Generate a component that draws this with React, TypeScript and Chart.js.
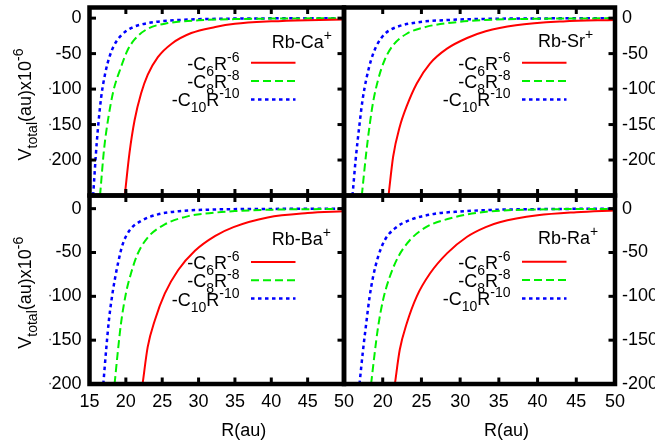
import React, { useEffect, useRef } from 'react';
import { Chart, registerables } from 'chart.js';

Chart.register(...registerables);

const FAMILY = '"Liberation Sans", Arial, Helvetica, sans-serif';
const CANVAS_W = 661;
const CANVAS_H = 446;

// ---- tick values ----
const xTickValues = [15, 20, 25, 30, 35, 40, 45, 50];
const yTickValues = [-200, -150, -100, -50, 0];

// ---- panel names ----
const panelIons = ['Ca', 'Sr', 'Ba', 'Ra'];

// ---- data: [R(au), V(au) x 1e-6] ----
const caC6 = [[19.85, -250], [20.5, -190], [21.2, -144], [22.1, -106], [23, -80], [24.4, -55], [26.3, -36], [29, -21], [32.3, -12.5], [35, -8], [40, -4.5], [45, -2.8], [50, -2]];
const caC8 = [[16.45, -250], [17, -185], [17.6, -140], [18.3, -102], [19.3, -70], [20.2, -46], [21.2, -30], [23, -15], [25.8, -7], [30, -3], [35, -1.3], [40, -0.6], [50, -0.2]];
const caC10 = [[15.5, -250], [16, -175], [16.6, -112], [17.2, -76], [17.8, -53], [18.4, -38], [19.3, -25], [20.7, -14], [23, -7], [26.7, -3], [30, -1.5], [35, -0.6], [40, -0.3], [50, 0]];

const srC6 = [[20.75, -250], [21.35, -195], [22.2, -153], [23.1, -124], [24.4, -92], [26.1, -64], [28.3, -43], [30.9, -28], [33.3, -18.5], [37.2, -10], [43.3, -4.6], [50, -2.5]];
const srC8 = [[17.3, -250], [17.85, -192], [18.3, -152], [18.75, -119], [19.4, -87], [20.25, -59], [21.35, -38], [23.1, -22], [25.7, -12], [29.2, -6], [33, -2.8], [40, -0.9], [50, -0.2]];
const srC10 = [[16.1, -250], [16.5, -200], [17, -150], [17.4, -115], [17.9, -85], [18.5, -59], [19.2, -39], [20.3, -22], [21.8, -12.5], [24.4, -6], [28.7, -2.5], [35, -0.8], [40, -0.4], [50, -0.1]];

const baC6 = [[22.3, -200], [23, -158], [24, -127], [25.35, -97], [27.2, -70], [29.5, -48], [32.3, -31], [34.8, -21], [39.5, -10], [45, -5], [50, -3]];
const baC8 = [[18.45, -200], [18.86, -166], [19.33, -131], [20, -97], [20.7, -74], [21.6, -52], [23, -33], [25.35, -18], [28.6, -8.5], [32.3, -4.5], [35, -2.8], [40, -1.2], [50, -0.3]];
const baC10 = [[16.9, -200], [17.3, -160], [17.7, -125], [18.1, -100], [18.5, -80], [18.9, -63], [19.55, -41], [20.5, -25], [22.1, -14], [24.4, -6.5], [27.7, -2.6], [32, -1], [40, -0.3], [50, 0]];

const raC6 = [[21.57, -200], [22.2, -161], [23.1, -131], [24.4, -100], [26.1, -74], [28.3, -51], [30.9, -32], [33.3, -21], [35.1, -15.5], [40, -7.6], [45, -4], [50, -2]];
const raC8 = [[18.5, -200], [18.96, -165], [19.4, -135], [20.05, -104], [20.9, -78], [22, -55], [23.5, -36], [25.7, -20.6], [28.75, -11], [33.1, -3.8], [40, -1], [50, -0.2]];
const raC10 = [[17.0, -200], [17.45, -162], [17.87, -131], [18.3, -101], [18.75, -78], [19.4, -55], [20.26, -36], [21.57, -22.5], [23.5, -13], [26.6, -6], [30, -3.2], [35, -1.2], [40, -0.5], [50, -0.1]];

type Seg = [string, number]; // 0 normal, 1 superscript, -1 subscript

const legendLabels: Seg[][] = [
  [['-C', 0], ['6', -1], ['R', 0], ['-6', 1]],
  [['-C', 0], ['8', -1], ['R', 0], ['-8', 1]],
  [['-C', 0], ['10', -1], ['R', 0], ['-10', 1]],
];
const yTitleSegs: Seg[] = [['V', 0], ['total', -1], ['(au)x10', 0], ['-6', 1]];
const xTitleSegs: Seg[] = [['R(au)', 0]];

const seriesStyles = [
  { color: '#ff0000', width: 2, dash: [] as number[] },
  { color: '#00f000', width: 2, dash: [8, 4] },
  { color: '#0000ff', width: 2.5, dash: [3.5, 3.5] },
];

type Panel = {
  ion: string;
  data: number[][][];
  yMin: number;
  yMax: number;
  area: { l: number; t: number; r: number; b: number };
  yPos: 'left' | 'right';
  xLabels: boolean;
  hideFirstX: boolean;
  titleDy: number;
  legendDy: number;
};

const panels: Panel[] = [
  { ion: panelIons[0], data: [caC6, caC8, caC10], yMin: -250, yMax: 15, area: { l: 89.5, t: 7.5, r: 344, b: 195.5 }, yPos: 'left', xLabels: false, hideFirstX: false, titleDy: 40.5, legendDy: 55.3 },
  { ion: panelIons[1], data: [srC6, srC8, srC10], yMin: -250, yMax: 15, area: { l: 344, t: 7.5, r: 615, b: 195.5 }, yPos: 'right', xLabels: false, hideFirstX: true, titleDy: 39.5, legendDy: 55.3 },
  { ion: panelIons[2], data: [baC6, baC8, baC10], yMin: -200, yMax: 15, area: { l: 89.5, t: 195.5, r: 344, b: 384 }, yPos: 'left', xLabels: true, hideFirstX: false, titleDy: 49.5, legendDy: 66.5 },
  { ion: panelIons[3], data: [raC6, raC8, raC10], yMin: -200, yMax: 15, area: { l: 344, t: 195.5, r: 615, b: 384 }, yPos: 'right', xLabels: true, hideFirstX: true, titleDy: 48, legendDy: 66.3 },
];

const BIG = 18;
const SMALL = 14;

function segFont(k: number) {
  return `${k === 0 ? BIG : SMALL}px ${FAMILY}`;
}
function richWidth(ctx: CanvasRenderingContext2D, segs: Seg[]) {
  let w = 0;
  for (const [t, k] of segs) {
    ctx.font = segFont(k);
    w += ctx.measureText(t).width;
  }
  return w;
}
function drawRich(ctx: CanvasRenderingContext2D, segs: Seg[], x: number, y: number, align: 'left' | 'right' | 'center') {
  const w = richWidth(ctx, segs);
  let cx = align === 'left' ? x : align === 'right' ? x - w : x - w / 2;
  ctx.textBaseline = 'alphabetic';
  ctx.textAlign = 'left';
  ctx.fillStyle = '#000';
  for (const [t, k] of segs) {
    ctx.font = segFont(k);
    const dy = k === 1 ? -8 : k === -1 ? 6 : 0;
    ctx.fillText(t, cx, y + dy);
    cx += ctx.measureText(t).width;
  }
}

function makeChart(canvas: HTMLCanvasElement, p: Panel) {
  const Y_W = 40;
  const X_H = p.xLabels ? 30 : 0;
  const a = p.area;
  const padding = {
    left: p.yPos === 'left' ? a.l - Y_W : a.l,
    right: p.yPos === 'right' ? CANVAS_W - a.r - Y_W : CANVAS_W - a.r,
    top: a.t,
    bottom: CANVAS_H - a.b - X_H,
  };

  const framePlugin = {
    id: 'frame-' + p.ion,
    afterDraw(chart: any) {
      const { ctx, chartArea: ca, scales } = chart;
      const xs = scales.x;
      const ys = scales.y;
      ctx.save();
      ctx.setLineDash([]);
      ctx.strokeStyle = '#000';
      ctx.lineCap = 'butt';
      const TL = 6.5;
      const seg = (x1: number, y1: number, x2: number, y2: number) => {
        ctx.beginPath();
        ctx.moveTo(x1, y1);
        ctx.lineTo(x2, y2);
        ctx.stroke();
      };
      ctx.lineWidth = 3;
      for (const v of xTickValues) {
        const px = xs.getPixelForValue(v);
        seg(px, ca.top, px, ca.top + TL);
        seg(px, ca.bottom, px, ca.bottom - TL);
      }
      for (const v of yTickValues) {
        const py = ys.getPixelForValue(v);
        if (p.yPos === 'left') {
          seg(ca.left, py, ca.left + TL, py);
          seg(ca.right, py, ca.right - TL, py);
        } else {
          seg(ca.right, py, ca.right - TL, py);
        }
      }
      ctx.lineWidth = 4.5;
      ctx.strokeRect(ca.left, ca.top, ca.right - ca.left, ca.bottom - ca.top);

      // panel label
      drawRich(ctx, [['Rb-' + p.ion, 0], ['+', 1]], ca.left + 0.716 * (ca.right - ca.left), ca.top + p.titleDy, 'left');

      // key
      const sampleEnd = ca.right - 48.5;
      const sampleStart = sampleEnd - 44.5;
      legendLabels.forEach((segs, i) => {
        const y = ca.top + p.legendDy + i * 18.3;
        const st = seriesStyles[i];
        ctx.save();
        ctx.strokeStyle = st.color;
        ctx.lineWidth = st.width;
        ctx.setLineDash(st.dash);
        ctx.beginPath();
        ctx.moveTo(sampleStart, y);
        ctx.lineTo(sampleEnd, y);
        ctx.stroke();
        ctx.restore();
        drawRich(ctx, segs, sampleStart - 11.5, y + 7, 'right');
      });

      // axis titles
      if (p.yPos === 'left') {
        ctx.save();
        ctx.translate(31, (ca.top + ca.bottom) / 2 + 3);
        ctx.rotate(-Math.PI / 2);
        drawRich(ctx, yTitleSegs, 0, 0, 'center');
        ctx.restore();
      }
      if (p.xLabels) {
        drawRich(ctx, xTitleSegs, (ca.left + ca.right) / 2 + 27, 436, 'center');
      }
      ctx.restore();
    },
  };

  return new Chart(canvas, {
    type: 'line',
    data: {
      datasets: p.data.map((pts, i) => ({
        data: pts.map(([x, y]) => ({ x, y })),
        borderColor: seriesStyles[i].color,
        borderWidth: seriesStyles[i].width,
        borderDash: seriesStyles[i].dash,
        pointRadius: 0,
        fill: false,
        cubicInterpolationMode: 'monotone' as const,
      })),
    },
    options: {
      responsive: false,
      animation: false,
      events: [],
      layout: { padding },
      plugins: { legend: { display: false }, tooltip: { enabled: false } },
      scales: {
        x: {
          type: 'linear',
          min: 15,
          max: 50,
          position: 'bottom',
          grid: { display: false, drawTicks: false },
          border: { display: false },
          afterBuildTicks: (s: any) => {
            s.ticks = xTickValues.map((value) => ({ value }));
          },
          afterFit: (s: any) => {
            s.height = X_H;
            s.paddingLeft = 0;
            s.paddingRight = 0;
          },
          ticks: {
            display: p.xLabels,
            autoSkip: false,
            maxRotation: 0,
            padding: 7,
            color: '#000',
            font: { family: FAMILY, size: BIG },
            callback: (v: any) => (p.hideFirstX && v === 15 ? '' : String(v)),
          },
        },
        y: {
          type: 'linear',
          min: p.yMin,
          max: p.yMax,
          position: p.yPos,
          grid: { display: false, drawTicks: false },
          border: { display: false },
          afterBuildTicks: (s: any) => {
            s.ticks = yTickValues.map((value) => ({ value }));
          },
          afterFit: (s: any) => {
            s.width = Y_W;
            s.paddingTop = 0;
            s.paddingBottom = 0;
          },
          ticks: {
            autoSkip: false,
            padding: p.yPos === 'left' ? 8 : 7,
            color: '#000',
            font: { family: FAMILY, size: BIG },
            callback: (v: any) => String(v),
          },
        },
      },
    },
    plugins: [framePlugin],
  } as any);
}

export default function App() {
  const refs = [useRef<HTMLCanvasElement>(null), useRef<HTMLCanvasElement>(null), useRef<HTMLCanvasElement>(null), useRef<HTMLCanvasElement>(null)];

  useEffect(() => {
    const charts = panels.map((p, i) => makeChart(refs[i].current as HTMLCanvasElement, p));
    return () => charts.forEach((c) => c.destroy());
  }, []);

  return (
    <div style={{ position: 'absolute', left: 0, top: 0, width: CANVAS_W, height: CANVAS_H, background: '#fff' }}>
      {panels.map((p, i) => (
        <canvas
          key={p.ion}
          ref={refs[i]}
          width={CANVAS_W}
          height={CANVAS_H}
          style={{ position: 'absolute', left: 0, top: 0, width: CANVAS_W, height: CANVAS_H }}
        />
      ))}
    </div>
  );
}
